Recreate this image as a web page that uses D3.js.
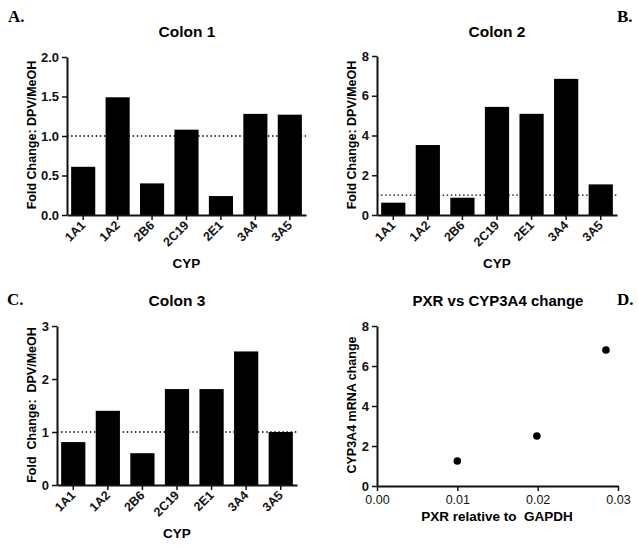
<!DOCTYPE html>
<html><head><meta charset="utf-8">
<script src="https://cdn.jsdelivr.net/npm/d3@7"></script>
<style>body{margin:0;background:#fff}svg{display:block}</style>
</head><body>
<script>
const cyp = ["1A1","1A2","2B6","2C19","2E1","3A4","3A5"];
const colon1 = [0.61, 1.49, 0.40, 1.08, 0.24, 1.28, 1.27];
const colon2 = [0.62, 3.52, 0.87, 5.44, 5.09, 6.85, 1.54];
const colon3 = [0.81, 1.40, 0.60, 1.81, 1.81, 2.52, 1.00];
const pxr = [0.0100, 0.0199, 0.0285];
const cyp3a4 = [1.25, 2.50, 6.80];
const ticksA = [0, 0.5, 1.0, 1.5, 2.0];
const ticksB = [0, 2, 4, 6, 8];
const ticksC = [0, 1, 2, 3];
const ticksDy = [0, 2, 4, 6, 8];
const ticksDx = [0, 0.01, 0.02, 0.03];

const svg = d3.select("body").append("svg").attr("width",639).attr("height",549)
  .style("font-family","Arial, 'Liberation Sans', sans-serif");

function axisStyle(g){
  g.selectAll(".domain").attr("stroke","#111").attr("stroke-width",2);
  g.selectAll(".tick line").attr("stroke","#111").attr("stroke-width",1.5);
  g.selectAll(".tick text").attr("fill","#111");
}

function barPanel(o){
  const x = d3.scaleBand().domain(cyp).range([o.x0,o.x1]).paddingInner(0.3).paddingOuter(0.12);
  const y = d3.scaleLinear().domain([0,o.ymax]).range([o.y0,o.y1]);
  const g = svg.append("g");
  g.selectAll("rect.bar").data(o.values).join("rect")
    .attr("x",(d,i)=>x(cyp[i])).attr("width",x.bandwidth())
    .attr("y",d=>y(d)).attr("height",d=>y(0)-y(d)).attr("fill","#000");
  g.append("line").attr("x1",o.x0).attr("x2",o.x1).attr("y1",y(1)).attr("y2",y(1))
    .attr("stroke","#000").attr("stroke-width",1.3).attr("stroke-dasharray","1.5,2.6");
  const ya = g.append("g").attr("transform",`translate(${o.x0},0)`)
    .call(d3.axisLeft(y).tickValues(o.ticks).tickSize(5).tickSizeOuter(0).tickPadding(3).tickFormat(o.fmt));
  axisStyle(ya);
  ya.selectAll(".tick text").attr("font-size",13).attr("font-weight","bold");
  const xa = g.append("g").attr("transform",`translate(0,${o.y0})`)
    .call(d3.axisBottom(x).tickSize(5).tickSizeOuter(0));
  axisStyle(xa);
  xa.selectAll(".tick text").attr("font-size",12.5).attr("font-weight","bold")
    .attr("text-anchor","end").attr("dy",null).attr("y",null)
    .attr("transform","translate(3,11) rotate(-45)");
  g.append("text").attr("x",o.tx).attr("y",o.ty).attr("text-anchor","middle")
    .attr("font-size",15.5).attr("font-weight","bold").text(o.title);
  g.append("text").attr("transform",`translate(${o.lx},${o.ly}) rotate(-90)`).attr("text-anchor","middle")
    .attr("font-size",12.5).attr("font-weight","bold").style("white-space","pre").text(o.ylabel);
  g.append("text").attr("x",(o.x0+o.x1)/2).attr("y",o.xly).attr("text-anchor","middle")
    .attr("font-size",13.5).attr("font-weight","bold").text("CYP");
  g.append("text").attr("x",o.px).attr("y",o.py).attr("font-family","'Liberation Serif','Times New Roman',serif")
    .attr("font-size",17).attr("font-weight","bold").text(o.letter);
}

barPanel({x0:67,x1:306,y0:215,y1:57,ymax:2,values:colon1,ticks:ticksA,fmt:d3.format(".1f"),
  title:"Colon 1",tx:187,ty:37,ylabel:"Fold Change: DPV/MeOH",lx:36,ly:135,xly:268,letter:"A.",px:8,py:22});
barPanel({x0:377,x1:617,y0:215,y1:56,ymax:8,values:colon2,ticks:ticksB,fmt:d3.format("d"),
  title:"Colon 2",tx:497,ty:37,ylabel:"Fold Change: DPV/MeOH",lx:356,ly:135,xly:268,letter:"B.",px:617,py:22});
barPanel({x0:57,x1:297,y0:485,y1:326,ymax:3,values:colon3,ticks:ticksC,fmt:d3.format("d"),
  title:"Colon 3",tx:177,ty:306,ylabel:"Fold  Change:  DPV/MeOH",lx:36,ly:405,xly:538,letter:"C.",px:7,py:305});

// Panel D scatter
(function(){
  const x0=377,x1=618,y0=486,y1=326;
  const x = d3.scaleLinear().domain([0,0.03]).range([x0,x1]);
  const y = d3.scaleLinear().domain([0,8]).range([y0,y1]);
  const g = svg.append("g");
  const ya = g.append("g").attr("transform",`translate(${x0},0)`)
    .call(d3.axisLeft(y).tickValues(ticksDy).tickSize(5).tickSizeOuter(0).tickPadding(3).tickFormat(d3.format("d")));
  axisStyle(ya);
  ya.selectAll(".tick text").attr("font-size",13).attr("font-weight","bold");
  const xa = g.append("g").attr("transform",`translate(0,${y0})`)
    .call(d3.axisBottom(x).tickValues(ticksDx).tickSize(5).tickSizeOuter(0).tickPadding(4).tickFormat(d3.format(".2f")));
  axisStyle(xa);
  xa.selectAll(".tick text").attr("font-size",12.5);
  g.selectAll("circle").data(pxr).join("circle")
    .attr("cx",d=>x(d)).attr("cy",(d,i)=>y(cyp3a4[i])).attr("r",3.8).attr("fill","#000");
  g.append("text").attr("x",498).attr("y",306).attr("text-anchor","middle")
    .attr("font-size",15).attr("font-weight","bold").text("PXR vs CYP3A4 change");
  g.append("text").attr("transform","translate(356,405) rotate(-90)").attr("text-anchor","middle")
    .attr("font-size",12.5).attr("font-weight","bold").text("CYP3A4 mRNA change");
  g.append("text").attr("x",497).attr("y",521).attr("text-anchor","middle")
    .attr("font-size",13.5).attr("font-weight","bold").style("white-space","pre").text("PXR relative to  GAPDH");
  g.append("text").attr("x",617).attr("y",305).attr("font-family","'Liberation Serif','Times New Roman',serif")
    .attr("font-size",17).attr("font-weight","bold").text("D.");
})();
</script>
</body></html>
